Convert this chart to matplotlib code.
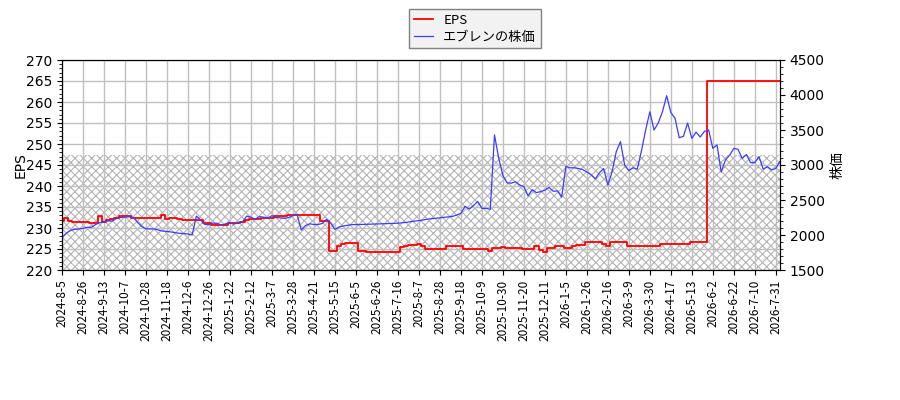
import matplotlib
matplotlib.use("Agg")
import matplotlib.pyplot as plt
from matplotlib.ticker import MultipleLocator
import numpy as np

plt.rcParams['font.family'] = ['DejaVu Sans', 'Noto Sans CJK JP']
plt.rcParams['hatch.linewidth'] = 0.8

tick_labels = [
    "2024-8-5", "2024-8-26", "2024-9-13", "2024-10-7", "2024-10-28", "2024-11-18",
    "2024-12-6", "2024-12-26", "2025-1-22", "2025-2-12", "2025-3-7", "2025-3-28",
    "2025-4-21", "2025-5-15", "2025-6-5", "2025-6-26", "2025-7-16", "2025-8-7",
    "2025-8-28", "2025-9-18", "2025-10-9", "2025-10-30", "2025-11-20", "2025-12-11",
    "2026-1-5", "2026-1-26", "2026-2-16", "2026-3-9", "2026-3-30", "2026-4-17",
    "2026-5-13", "2026-6-2", "2026-6-22", "2026-7-10", "2026-7-31",
]
points_per_tick = 5

eps = [
    231.7, 232.3, 231.6, 231.5, 231.5, 231.5, 231.5, 231.3, 231.2, 232.8,
    231.5, 232.0, 232.1, 232.3, 232.9, 232.9, 232.9, 232.5, 232.5, 232.5,
    232.4, 232.4, 232.4, 232.5, 233.0, 232.1, 232.3, 232.3, 232.2, 231.9,
    231.9, 231.9, 231.9, 231.9, 231.1, 231.1, 230.8, 230.7, 230.7, 230.8,
    231.3, 231.3, 231.3, 231.4, 232.0, 232.1, 232.2, 232.2, 232.3, 232.4,
    232.4, 232.8, 232.9, 232.9, 233.0, 233.0, 233.0, 233.0, 233.0, 233.2,
    233.2, 233.2, 231.7, 231.6, 224.6, 224.6, 225.6, 226.3, 226.4, 226.4,
    226.4, 224.5, 224.5, 224.4, 224.3, 224.4, 224.4, 224.3, 224.3, 224.3,
    224.3, 225.4, 225.6, 226.0, 226.0, 226.3, 225.8, 225.1, 225.1, 225.1,
    225.1, 225.1, 225.6, 225.6, 225.6, 225.6, 224.9, 224.9, 224.9, 224.9,
    224.9, 225.1, 224.6, 225.3, 225.3, 225.5, 225.2, 225.2, 225.2, 225.2,
    225.1, 225.1, 225.1, 225.8, 224.8, 224.4, 225.3, 225.3, 225.6, 225.6,
    225.3, 225.3, 225.8, 226.0, 226.0, 226.7, 226.6, 226.6, 226.6, 226.1,
    225.8, 226.6, 226.6, 226.6, 226.6, 225.6, 225.6, 225.6, 225.6, 225.6,
    225.8, 225.8, 225.8, 226.2, 226.2, 226.2, 226.2, 226.2, 226.2, 226.2,
    226.6, 226.6, 226.6, 226.6, 265.0, 265.0, 265.1, 265.0, 265.0, 265.0,
    265.1, 265.0, 265.0, 265.0, 265.0, 265.0, 265.0, 265.0, 265.0, 265.0,
    265.1, 265.0,
]

price = [
    1965, 2024, 2065, 2080, 2086, 2095, 2110, 2110, 2150, 2176,
    2190, 2200, 2200, 2238, 2250, 2255, 2260, 2250, 2180, 2120,
    2090, 2086, 2086, 2071, 2055, 2052, 2043, 2035, 2024, 2020,
    2015, 2000, 2270, 2215, 2150, 2150, 2170, 2167, 2140, 2160,
    2176, 2157, 2176, 2190, 2270, 2255, 2224, 2262, 2255, 2245,
    2276, 2250, 2245, 2238, 2250, 2280, 2290, 2070, 2135, 2160,
    2150, 2150, 2165, 2224, 2170, 2080, 2115, 2129, 2138, 2148,
    2150, 2150, 2152, 2155, 2155, 2158, 2160, 2162, 2165, 2167,
    2168, 2175, 2180, 2190, 2198, 2205, 2214, 2226, 2232, 2238,
    2245, 2252, 2258, 2266, 2285, 2310, 2410, 2370, 2420, 2480,
    2380, 2380, 2367, 3430, 3100, 2850, 2745, 2740, 2762, 2715,
    2690, 2560, 2648, 2605, 2620, 2640, 2680, 2625, 2630, 2540,
    2980, 2960, 2960, 2950, 2935, 2900, 2860, 2800, 2890, 2950,
    2714, 2900, 3190, 3333, 3000, 2920, 2960, 2940, 3200, 3500,
    3760, 3500, 3600, 3760, 3990, 3750, 3667, 3390, 3410, 3600,
    3380, 3470, 3400, 3480, 3500, 3238, 3286, 2900, 3071, 3140,
    3238, 3225, 3095, 3150, 3033, 3035, 3119, 2940, 2976, 2930,
    2950, 3050,
]

hatch_top = 247.4

fig = plt.figure(figsize=(9, 4), dpi=100)
ax = fig.add_axes([62/900, 1-270/400, (780-62)/900, 210/400])
ax2 = ax.twinx()

x = np.arange(len(eps))
xp = np.arange(len(price))

ax.fill_between([0, len(eps)], 220, hatch_top, facecolor='none', hatch='xxxx',
                edgecolor='#b4b4b4', linewidth=0, zorder=0)
l1, = ax.plot(x, eps, color='red', linewidth=1.3, drawstyle='steps-mid', label='EPS')
l2, = ax2.plot(xp, price, color='#3c3cff', linewidth=0.9, label='エブレンの株価')

ax.set_xlim(0, 171)
ax.set_ylim(220, 270)
ax2.set_ylim(1500, 4500)
ax.yaxis.set_major_locator(MultipleLocator(5))
ax.yaxis.set_minor_locator(MultipleLocator(1))
ax2.yaxis.set_major_locator(MultipleLocator(500))
ax2.yaxis.set_minor_locator(MultipleLocator(100))

ticks = np.arange(len(tick_labels)) * points_per_tick
ax.set_xticks(ticks)
ax.set_xticklabels(tick_labels, rotation=90, fontsize=8.5,
                   family=['Noto Sans CJK JP', 'DejaVu Sans'])
ax.grid(True, color='#c0c0c0', linewidth=1)
ax.set_axisbelow(True)

ax.set_ylabel('EPS', fontsize=10, labelpad=-1)
ax2.set_ylabel('株価', fontsize=10, family=['Noto Sans CJK JP', 'DejaVu Sans'])

leg = fig.legend([l1, l2], ['EPS', 'エブレンの株価'], loc='upper center',
                 bbox_to_anchor=(475/900, 1 - 9/400), borderaxespad=0,
                 fancybox=False, edgecolor='#808080',
                 facecolor='#f2f2f2', framealpha=1, handlelength=1.4,
                 labelspacing=0.3, borderpad=0.35,
                 prop={'family': ['Noto Sans CJK JP', 'DejaVu Sans'], 'size': 9.5})

fig.savefig('out.png', dpi=100)
